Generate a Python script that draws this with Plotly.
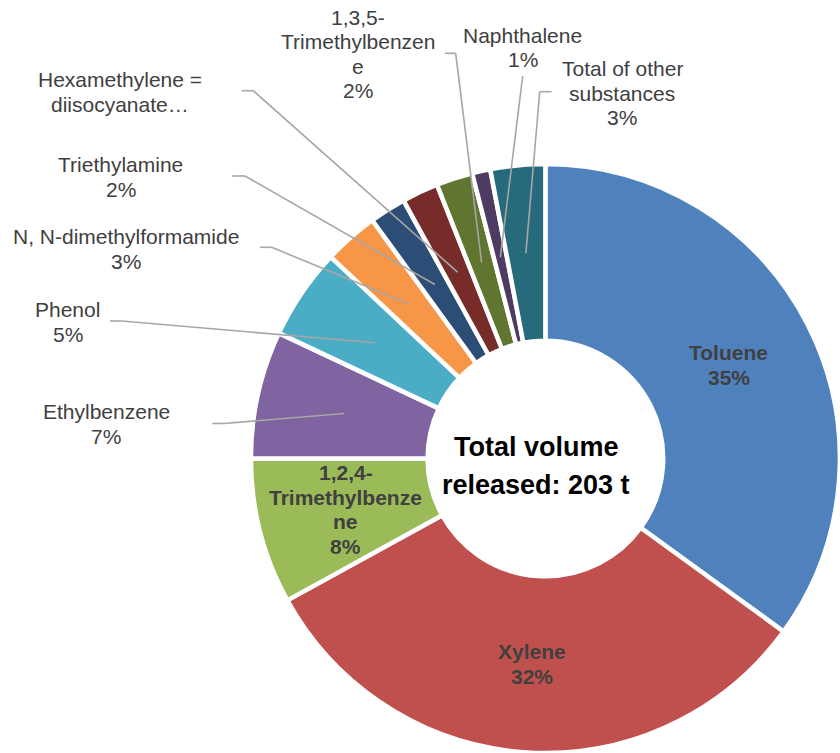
import math
import plotly.graph_objects as go

# Released substances, share of total volume (%)
substances = [
    "Toluene", "Xylene", "1,2,4-Trimethylbenzene", "Ethylbenzene", "Phenol",
    "N, N-dimethylformamide", "Triethylamine", "Hexamethylene = diisocyanate",
    "1,3,5-Trimethylbenzene", "Naphthalene", "Total of other substances",
]
shares = [35, 32, 8, 7, 5, 3, 2, 2, 2, 1, 3]
slice_colors = [
    "#4F81BD", "#C0504D", "#9BBB59", "#8064A2", "#4BACC6", "#F79646",
    "#2C4D75", "#772C2A", "#5F7530", "#4D3B62", "#276A7C",
]

# Label text as wrapped in the chart (percent line appended where shown)
label_lines = {
    "Toluene": ["Toluene", "35%"],
    "Xylene": ["Xylene", "32%"],
    "1,2,4-Trimethylbenzene": ["1,2,4-", "Trimethylbenze", "ne", "8%"],
    "Ethylbenzene": ["Ethylbenzene", "7%"],
    "Phenol": ["Phenol", "5%"],
    "N, N-dimethylformamide": ["N, N-dimethylformamide", "3%"],
    "Triethylamine": ["Triethylamine", "2%"],
    "Hexamethylene = diisocyanate": ["Hexamethylene =", "diisocyanate…"],
    "1,3,5-Trimethylbenzene": ["1,3,5-", "Trimethylbenzen", "e", "2%"],
    "Naphthalene": ["Naphthalene", "1%"],
    "Total of other substances": ["Total of other", "substances", "3%"],
}
inside_labels = ["Toluene", "Xylene", "1,2,4-Trimethylbenzene"]
center_lines = ["Total volume", "released: 203 t"]

# ---- layout (pixels) ----
W, H = 840, 753
CX, CY = 545.25, 458.5       # donut centre
R_OUT = 294.5
HOLE = 0.40
R_LABEL = 206                # radius for leader anchors / inside labels
TEXT = "#404040"
FONT = "Arial, Liberation Sans, sans-serif"
LINE_GAP = 24.5

# outside label block centres and leader-line waypoints (label side first)
outside_pos = {
    "Ethylbenzene": (106, 424),
    "Phenol": (67.5, 322),
    "N, N-dimethylformamide": (125.5, 249),
    "Triethylamine": (121, 177),
    "Hexamethylene = diisocyanate": (120, 92),
    "1,3,5-Trimethylbenzene": (357.5, 54),
    "Naphthalene": (522.7, 47.5),
    "Total of other substances": (622, 93),
}
leader_pts = {
    "Ethylbenzene": [(212.3, 423.5), (224, 423.5)],
    "Phenol": [(110, 321), (121.7, 321)],
    "N, N-dimethylformamide": [(260, 247.3), (271.7, 247.3)],
    "Triethylamine": [(232.3, 176), (245, 176)],
    "Hexamethylene = diisocyanate": [(241.7, 90.7), (253.3, 90.7)],
    "1,3,5-Trimethylbenzene": [(445, 53.3), (455.7, 53.3)],
    "Naphthalene": [(522.7, 76)],
    "Total of other substances": [(551.7, 91.7), (539.7, 91.7)],
}


def px(x, y):
    return x / W, 1 - y / H


def slice_point(i, r):
    total = sum(shares)
    start = sum(shares[:i])
    ang = 2 * math.pi * (start + shares[i] / 2) / total
    return CX + r * math.sin(ang), CY - r * math.cos(ang)


fig = go.Figure(go.Pie(
    labels=substances,
    values=shares,
    sort=False,
    direction="clockwise",
    rotation=0,
    hole=HOLE,
    textinfo="none",
    hoverinfo="label+percent",
    marker=dict(colors=slice_colors, line=dict(color="white", width=4.5)),
    domain=dict(x=[(CX - R_OUT) / W, 1.0], y=[0.0, (H - (CY - R_OUT)) / H]),
    showlegend=False,
))

annotations = []
shapes = []


def add_block(lines, cx, cy, size, bold, color, gap):
    n = len(lines)
    for k, t in enumerate(lines):
        y = cy + (k - (n - 1) / 2) * gap
        xp, yp = px(cx, y)
        annotations.append(dict(
            x=xp, y=yp, xref="paper", yref="paper", showarrow=False,
            text=f"<b>{t}</b>" if bold else t,
            xanchor="center", yanchor="middle",
            font=dict(family=FONT, size=size, color=color),
        ))


for i, name in enumerate(substances):
    if name in inside_labels:
        cx, cy = slice_point(i, R_LABEL)
        add_block(label_lines[name], cx, cy, 21, True, TEXT, LINE_GAP)
    else:
        cx, cy = outside_pos[name]
        add_block(label_lines[name], cx, cy, 21, False, TEXT, LINE_GAP)
        pts = leader_pts[name] + [slice_point(i, R_LABEL)]
        for (x0, y0), (x1, y1) in zip(pts[:-1], pts[1:]):
            a0, b0 = px(x0, y0)
            a1, b1 = px(x1, y1)
            shapes.append(dict(
                type="line", xref="paper", yref="paper",
                x0=a0, y0=b0, x1=a1, y1=b1,
                line=dict(color="#A6A6A6", width=1.6),
            ))

add_block(center_lines, 536, 466, 27, True, "#000000", 38)

fig.update_layout(
    width=W, height=H,
    margin=dict(l=0, r=0, t=0, b=0),
    paper_bgcolor="white",
    plot_bgcolor="white",
    annotations=annotations,
    shapes=shapes,
)

fig.write_html("out.html")
